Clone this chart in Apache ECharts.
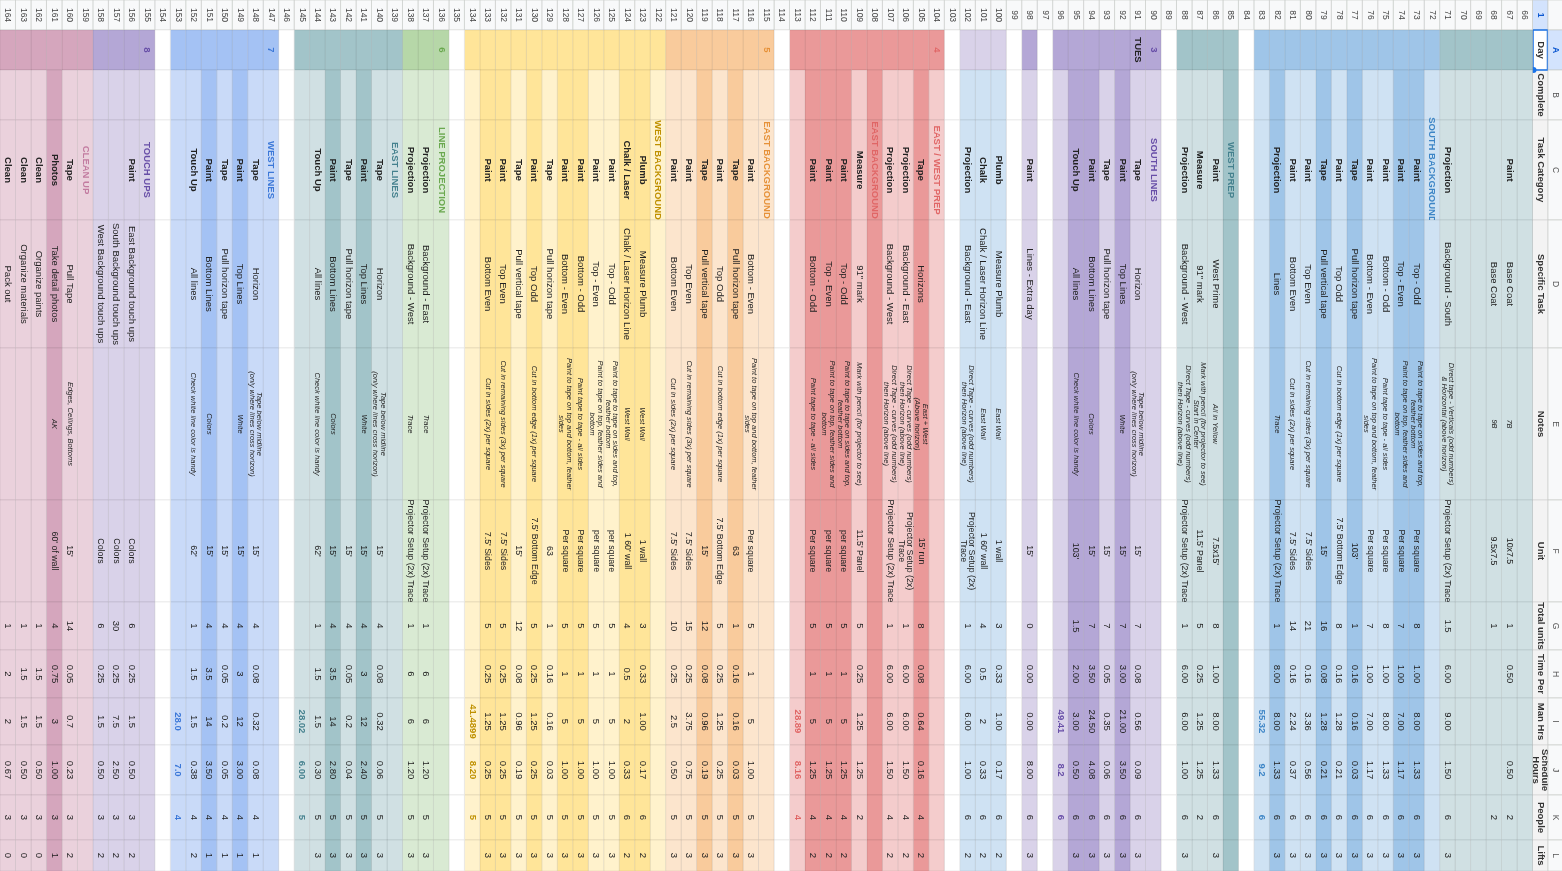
<!DOCTYPE html>
<html><head><meta charset="utf-8">
<script src="https://cdn.jsdelivr.net/npm/echarts@6/dist/echarts.min.js"></script>
<style>html,body{margin:0;padding:0;background:#fff}#c{width:1562px;height:871px}</style>
</head><body><div id="c"></div>
<script>
// ---------- DATA ----------
const columnLetters = ['A','B','C','D','E','F','G','H','I','J','K','L'];
const headerLabels = ['Day','Complete','Task Category','Specific Task','Notes','Unit','Total units','Time Per','Man Hrs','Schedule\nHours','People','Lifts'];
const rowNumbers = ['1'];
for (let r = 66; r <= 164; r++) rowNumbers.push(String(r));

// [row, Day, Category, Task, Notes, Unit, TotalUnits, TimePer, ManHrs, SchedHrs, People, Lifts]
const taskRows = [
 [67,'','Paint','Base Coat','7B','10x7.5','1','0.50','','0.50','2',''],
 [68,'','','Base Coat','9B','9.5x7.5','1','','','','2',''],
 [71,'','Projection','Background - South','Direct tape - Verticals (odd numbers)\n& Horizontal (above horizon)','Projector Setup (2x) Trace','1.5','6.00','9.00','1.50','6','3'],
 [73,'','Paint','Top - Odd','Paint to tape to tape on sides and top,\nfeather bottom','Per square','8','1.00','8.00','1.33','6','3'],
 [74,'','Paint','Top - Even','Paint to tape on top, feather sides and\nbottom','Per square','7','1.00','7.00','1.17','6','3'],
 [75,'','Paint','Bottom - Odd','Paint tape to tape - all sides','Per square','8','1.00','8.00','1.33','6','3'],
 [76,'','Paint','Bottom - Even','Paint to tape on top and bottom, feather\nsides','Per square','7','1.00','7.00','1.17','6','3'],
 [77,'','Tape','Pull horizon tape','',"103'",'1','0.16','0.16','0.03','6','3'],
 [78,'','Paint','Top Odd','Cut in bottom edge (1x) per square',"7.5' Bottom Edge",'8','0.16','1.28','0.21','6','3'],
 [79,'','Tape','Pull vertical tape','',"15'",'16','0.08','1.28','0.21','6','3'],
 [80,'','Paint','Top Even','Cut in remaining sides (3x) per square',"7.5' Sides",'21','0.16','3.36','0.56','6','3'],
 [81,'','Paint','Bottom Even','Cut in sides (2x) per square',"7.5' Sides",'14','0.16','2.24','0.37','6','3'],
 [82,'','Projection','Lines','Trace','Projector Setup (2x) Trace','1','8.00','8.00','1.33','6','3'],
 [86,'','Paint','West Prime','All in Yellow',"7.5x15'",'8','1.00','8.00','1.33','6','3'],
 [87,'','Measure','91" mark','Mark with pencil (for projector to see)\nStart in Center',"11.5' Panel",'5','0.25','1.25','1.25','2',''],
 [88,'','Projection','Background - West','Direct Tape - curves (odd numbers)\nthen Horizon (above line)','Projector Setup (2x) Trace','1','6.00','6.00','1.00','6','3'],
 [91,'TUES','Tape','Horizon','Tape below midline\n(only where lines cross horizon)',"15'",'7','0.08','0.56','0.09','6','3'],
 [92,'','Paint','Top Lines','White',"15'",'7','3.00','21.00','3.50','6','3'],
 [93,'','Tape','Pull horizon tape','',"15'",'7','0.05','0.35','0.06','6','3'],
 [94,'','Paint','Bottom Lines','Colors',"15'",'7','3.50','24.50','4.08','6','3'],
 [95,'','Touch Up','All lines','Check white line color is handy',"103'",'1.5','2.00','3.00','0.50','6','3'],
 [98,'','Paint','Lines - Extra day','',"15'",'0','0.00','0.00','8.00','6','3'],
 [100,'','Plumb','Measure Plumb','East Wall','1 wall','3','0.33','1.00','0.17','6','2'],
 [101,'','Chalk','Chalk / Laser Horizon Line','East Wall',"1 60' wall",'4','0.5','2','0.33','6','2'],
 [102,'','Projection','Background - East','Direct Tape - curves (odd numbers)\nthen Horizon (above line)','Projector Setup (2x)\nTrace','1','6.00','6.00','1.00','6','2'],
 [105,'','Tape','Horizons','East + West\n(Above horizon)',"15' run",'8','0.08','0.64','0.16','4','2'],
 [106,'','Projection','Background - East','Direct Tape - curves (odd numbers)\nthen Horizon (above line)','Projector Setup (2x)\nTrace','1','6.00','6.00','1.50','4','2'],
 [107,'','Projection','Background - West','Direct Tape - curves (odd numbers)\nthen Horizon (above line)','Projector Setup (2x) Trace','1','6.00','6.00','1.50','4','2'],
 [109,'','Measure','91" mark','Mark with pencil (for projector to see)',"11.5' Panel",'5','0.25','1.25','1.25','2',''],
 [110,'','Paint','Top - Odd','Paint to tape to tape on sides and top,\nfeather bottom','per square','5','1','5','1.25','4','2'],
 [111,'','Paint','Top - Even','Paint to tape on top, feather sides and\nbottom','per square','5','1','5','1.25','4','2'],
 [112,'','Paint','Bottom - Odd','Paint tape to tape - all sides','Per square','5','1','5','1.25','4','2'],
 [116,'','Paint','Bottom - Even','Paint to tape on top and bottom, feather\nsides','Per square','5','1','5','1.00','5','3'],
 [117,'','Tape','Pull horizon tape','','63','1','0.16','0.16','0.03','5','3'],
 [118,'','Paint','Top Odd','Cut in bottom edge (1x) per square',"7.5' Bottom Edge",'5','0.25','1.25','0.25','5','3'],
 [119,'','Tape','Pull vertical tape','',"15'",'12','0.08','0.96','0.19','5','3'],
 [120,'','Paint','Top Even','Cut in remaining sides (3x) per square',"7.5' Sides",'15','0.25','3.75','0.75','5','3'],
 [121,'','Paint','Bottom Even','Cut in sides (2x) per square',"7.5' Sides",'10','0.25','2.5','0.50','5','3'],
 [123,'','Plumb','Measure Plumb','West Wall','1 wall','3','0.33','1.00','0.17','6','2'],
 [124,'','Chalk / Laser','Chalk / Laser Horizon Line','West Wall',"1 60' wall",'4','0.5','2','0.33','6','2'],
 [125,'','Paint','Top - Odd','Paint to tape to tape on sides and top,\nfeather bottom','per square','5','1','5','1.00','5','3'],
 [126,'','Paint','Top - Even','Paint to tape on top, feather sides and\nbottom','per square','5','1','5','1.00','5','3'],
 [127,'','Paint','Bottom - Odd','Paint tape to tape - all sides','Per square','5','1','5','1.00','5','3'],
 [128,'','Paint','Bottom - Even','Paint to tape on top and bottom, feather\nsides','Per square','5','1','5','1.00','5','3'],
 [129,'','Tape','Pull horizon tape','','63','1','0.16','0.16','0.03','5','3'],
 [130,'','Paint','Top Odd','Cut in bottom edge (1x) per square',"7.5' Bottom Edge",'5','0.25','1.25','0.25','5','3'],
 [131,'','Tape','Pull vertical tape','',"15'",'12','0.08','0.96','0.19','5','3'],
 [132,'','Paint','Top Even','Cut in remaining sides (3x) per square',"7.5' Sides",'5','0.25','1.25','0.25','5','3'],
 [133,'','Paint','Bottom Even','Cut in sides (2x) per square',"7.5' Sides",'5','0.25','1.25','0.25','5','3'],
 [137,'','Projection','Background - East','Trace','Projector Setup (2x) Trace','1','6','6','1.20','5','3'],
 [138,'','Projection','Background - West','Trace','Projector Setup (2x) Trace','1','6','6','1.20','5','3'],
 [140,'','Tape','Horizon','Tape below midline\n(only where lines cross horizon)',"15'",'4','0.08','0.32','0.06','5','3'],
 [141,'','Paint','Top Lines','White',"15'",'4','3','12','2.40','5','3'],
 [142,'','Tape','Pull horizon tape','',"15'",'4','0.05','0.2','0.04','5','3'],
 [143,'','Paint','Bottom Lines','Colors',"15'",'4','3.5','14','2.80','5','3'],
 [144,'','Touch Up','All lines','Check white line color is handy',"62'",'1','1.5','1.5','0.30','5','3'],
 [148,'','Tape','Horizon','Tape below midline\n(only where lines cross horizon)',"15'",'4','0.08','0.32','0.08','4','1'],
 [149,'','Paint','Top Lines','White',"15'",'4','3','12','3.00','4','1'],
 [150,'','Tape','Pull horizon tape','',"15'",'4','0.05','0.2','0.05','4','1'],
 [151,'','Paint','Bottom Lines','Colors',"15'",'4','3.5','14','3.50','4','1'],
 [152,'','Touch Up','All lines','Check white line color is handy',"62'",'1','1.5','1.5','0.38','4','2'],
 [156,'','Paint','East Background touch ups','','Colors','6','0.25','1.5','0.50','3','2'],
 [157,'','','South Background touch ups','','Colors','30','0.25','7.5','2.50','3','2'],
 [158,'','','West Background touch ups','','Colors','6','0.25','1.5','0.50','3','2'],
 [160,'','Tape','Pull Tape','Edges, Ceilings, Bottoms',"15'",'14','0.05','0.7','0.23','3','2'],
 [161,'','Photos','Take detail photos','AK',"60' of wall",'4','0.75','3','1.00','3','1'],
 [162,'','Clean','Organize paints','','','1','1.5','1.5','0.50','3','0'],
 [163,'','Clean','Organize materials','','','1','1.5','1.5','0.50','3','0'],
 [164,'','Clean','Pack out','','','1','2','2','0.67','3','0']
];
// [row, day number, title]
const sectionHeaders = [
 [72,'','SOUTH BACKGROUND'],[85,'','WEST PREP'],[90,'3','SOUTH LINES'],[104,'4','EAST / WEST PREP'],
 [108,'','EAST BACKGROUND'],[115,'5','EAST BACKGROUND'],[122,'','WEST BACKGROUND'],[136,'6','LINE PROJECTION'],
 [139,'','EAST LINES'],[147,'7','WEST LINES'],[155,'8','TOUCH UPS'],[159,'','CLEAN UP']
];
// [row, Man Hrs, Schedule Hours, People]
const summaryRows = [[83,'55.32','9.2','6'],[96,'49.41','8.2','6'],[113,'28.89','8.16','4'],[134,'41.4899','8.20','5'],[145,'28.02','6.00','5'],[153,'28.0','7.0','4']];
// [first row, last row, palette]
const sections = [[66,71,'teal'],[72,83,'blue'],[85,88,'teal'],[90,96,'purple'],[98,98,'purple'],[100,102,'lav'],[104,113,'red'],[115,121,'orange'],[122,134,'yellow'],[136,138,'green'],[139,145,'teal'],[147,153,'wblue'],[155,158,'purple'],[159,164,'pink']];
const darkRows = [73,74,77,79,82,85,92,94,95,105,108,110,111,112,117,119,123,124,127,128,130,132,133,141,143,149,151,161];

// ---------- STYLE ----------
const palettes = {
 teal:{a:'#a2c4c9',l:'#d0e0e3',t:'#45818e'}, blue:{a:'#9fc5e8',l:'#cfe2f3',t:'#3d85c6'},
 purple:{a:'#b4a7d6',l:'#d9d2e9',t:'#674ea7'}, lav:{a:'#d9d2e9',l:'#cfe2f3',t:'#674ea7'},
 red:{a:'#ea9999',l:'#f4cccc',t:'#e06666'}, orange:{a:'#f9cb9c',l:'#fce5cd',t:'#e69138'},
 yellow:{a:'#ffe599',l:'#fff2cc',t:'#bf9000'}, green:{a:'#b6d7a8',l:'#d9ead3',t:'#6aa84f'},
 wblue:{a:'#a4c2f4',l:'#c9daf8',t:'#3c78d8'}, pink:{a:'#d5a6bd',l:'#ead1dc',t:'#c27ba0'}
};
const colW = [40,50,100,128,152,102,48,48,47,50,45,31];
const colEdge = [0]; colW.forEach(w => colEdge.push(colEdge[colEdge.length-1]+w));
const FONT = "'Liberation Sans', Arial, sans-serif";

const taskMap = {}; taskRows.forEach(r => taskMap[r[0]] = r);
const headMap = {}; sectionHeaders.forEach(r => headMap[r[0]] = r);
const sumMap = {}; summaryRows.forEach(r => sumMap[r[0]] = r);
function paletteOf(row){ for (const s of sections) if (row>=s[0] && row<=s[1]) return palettes[s[2]]; return null; }

function renderItem(params, api){
  const idx = api.value(0);
  const label = rowNumbers[idx];
  const row = +label;
  const cx = api.coord([idx, 0])[0];
  const w = api.size([1, 0])[0];
  const x0 = cx - w/2;
  const yOf = v => api.coord([idx, v])[1];
  const top = yOf(0);
  const kids = [];
  const isHead = label === '1';
  kids.push({type:'rect', shape:{x:x0, y:0, width:w, height:top}, style:{fill:isHead?'#d3e3fd':'#f8f9fa', stroke:'#c4c7c5', lineWidth:0.6}});
  kids.push({type:'text', x:cx, y:top/2, rotation:-Math.PI/2, style:{text:label, align:'center', verticalAlign:'middle', font:(isHead?'bold ':'')+'8.5px '+FONT, fill:isHead?'#0b57d0':'#444'}});
  const pal = paletteOf(row);
  const dark = darkRows.indexOf(row) >= 0;
  const task = taskMap[row], head = headMap[row], sum = sumMap[row];
  for (let j = 0; j < 12; j++){
    const ya = yOf(colEdge[j]), yb = yOf(colEdge[j+1]);
    let fill = '#ffffff', stroke = '#e2e2e2';
    if (isHead) { fill = j===0 ? '#ffffff' : '#f3f3f3'; stroke = '#d0d0d0'; }
    else if (pal) { fill = (j===0 || dark) ? pal.a : pal.l; stroke = 'rgba(0,0,0,0.12)'; }
    kids.push({type:'rect', shape:{x:x0, y:ya, width:w, height:yb-ya}, style:{fill, stroke, lineWidth:0.6}});
    let text = '', font = '9.5px '+FONT, color = '#222', lh = 10;
    if (isHead) { text = headerLabels[j]; font = '600 9.5px '+FONT; color = '#333'; lh = 9; }
    else if (task) {
      text = j===0 ? task[1] : (j===1 ? '' : task[j]);
      if (j===0 || j===2) font = 'bold 9.5px '+FONT;
      if (j===4) { font = 'italic 7.5px '+FONT; lh = 7.5; }
      if (j===5) { font = '8.8px '+FONT; lh = 8.5; }
    }
    else if (head) {
      if (j===0) { text = head[1]; font = 'bold 9.5px '+FONT; color = pal.t; }
      if (j===2) { text = head[2]; font = 'bold 9.5px '+FONT; color = pal.t; }
    }
    else if (sum) {
      const m = {8:sum[1], 9:sum[2], 10:sum[3]};
      if (m[j]) { text = m[j]; font = 'bold 9.5px '+FONT; color = pal.t; }
    }
    if (text) kids.push({type:'text', x:cx, y:(ya+yb)/2, rotation:-Math.PI/2, style:{text, align:'center', verticalAlign:'middle', font, fill:color, lineHeight:lh}});
  }
  if (isHead) {
    kids.push({type:'rect', shape:{x:x0+0.5, y:yOf(0), width:w-1, height:colW[0]}, style:{fill:'none', stroke:'#1a73e8', lineWidth:1.5}});
    kids.push({type:'circle', shape:{cx:x0+1, cy:yOf(colEdge[1]), r:3}, style:{fill:'#1a73e8'}});
    kids.push({type:'rect', shape:{x:x0-3, y:0, width:3, height:yOf(colEdge[12])}, style:{fill:'#c7c7c7'}});
    kids.push({type:'rect', shape:{x:x0+w, y:0, width:30, height:top}, style:{fill:'#f8f9fa', stroke:'#c4c7c5', lineWidth:0.6}});
    for (let j = 0; j < 12; j++){
      const ya = yOf(colEdge[j]), yb = yOf(colEdge[j+1]);
      kids.push({type:'rect', shape:{x:x0+w, y:ya, width:30, height:yb-ya}, style:{fill:j===0?'#d3e3fd':'#f8f9fa', stroke:'#c4c7c5', lineWidth:0.6}});
      kids.push({type:'text', x:x0+w+7, y:(ya+yb)/2, rotation:-Math.PI/2, style:{text:columnLetters[j], align:'center', verticalAlign:'middle', font:(j===0?'bold ':'')+'8.5px '+FONT, fill:j===0?'#0b57d0':'#555'}});
    }
  }
  return {type:'group', children:kids};
}

const chart = echarts.init(document.getElementById('c'), null, {renderer:'canvas'});
chart.setOption({
  animation:false,
  grid:{left:0, right:14, top:30, bottom:0},
  xAxis:{type:'category', data:rowNumbers, inverse:true, show:false},
  yAxis:{type:'value', min:0, max:colEdge[12], inverse:true, show:false},
  series:[{type:'custom', clip:false, renderItem, encode:{x:0}, data:rowNumbers.map((r,i)=>[i])}]
});
</script></body></html>
